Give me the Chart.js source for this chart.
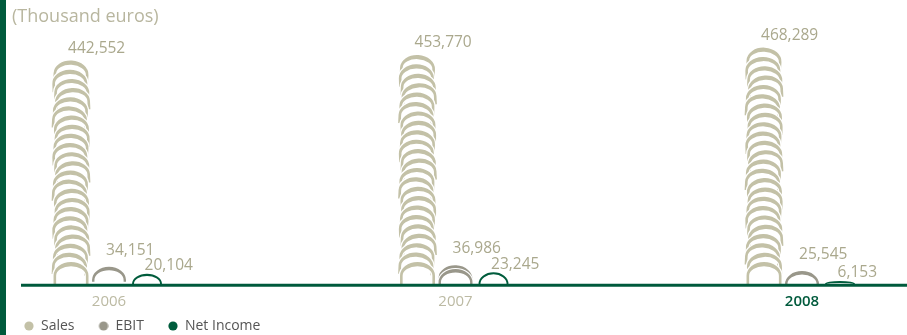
<!DOCTYPE html>
<html>
<head>
<meta charset="utf-8">
<script src="https://cdn.jsdelivr.net/npm/chart.js@4/dist/chart.umd.min.js"></script>
<style>
html,body{margin:0;padding:0;background:#ffffff;}
#wrap{position:relative;width:907px;height:335px;}
</style>
</head>
<body>
<div id="wrap"><canvas id="c" width="907" height="335"></canvas></div>
<script>
// ---- data ----
const years = ['2006', '2007', '2008'];
const sales = [442552, 453770, 468289];
const ebit = [34151, 36986, 25545];
const netIncome = [20104, 23245, 6153];
const seriesNames = ['Sales', 'EBIT', 'Net Income'];
const unitTitle = '(Thousand euros)';
const yMax = 500000;

// ---- styles ----
const FONT = "'Open Sans', 'Noto Sans', sans-serif";
const GREEN = '#005a3c';
const seriesColors = ['#c3c1a7', '#99978a', '#005c3c'];
const archStyles = [
  {archH: 22, pitch: 9.3, tTop: 4.2, tSide: 2.6, halo: 2.6, inset: 0, single: false},
  {archH: 15, pitch: 5.0, tTop: 3.4, tSide: 2.4, halo: 2.0, inset: 0.5, single: false},
  {archH: 12, pitch: 0, tTop: 2.1, tSide: 1.9, halo: 0, inset: 2.5, single: true}
];
const labelOffsets = [{dx: 14.5, dy: -12}, {dx: 14.5, dy: -16.5}, {dx: 15, dy: -8}];
const jitter = [0, -1.2, 0.8, 1.5, -0.6, -1.5, 0.4, 1.1];
const tilt = [0.06, -0.03, 0.04, -0.05, 0.02, 0.05, -0.04, 0.01];
const LEGEND_W = 26;

Chart.defaults.font.family = FONT;

// legend marker: circle at the right end of a wide transparent image
function legendMarker(color) {
  const cv = document.createElement('canvas');
  cv.width = LEGEND_W; cv.height = 10;
  const c = cv.getContext('2d');
  c.fillStyle = color;
  c.beginPath();
  c.arc(LEGEND_W - 5, 5, 4.6, 0, Math.PI * 2);
  c.fill();
  return cv;
}

// one crescent-shaped arch (thicker at the top), optional white halo
function drawCrescent(ctx, cx, topY, rx, h, st, rot, color) {
  const ry = Math.max(1.5, Math.min(rx * 0.78, h));
  const cy = topY + ry;
  const legB = Math.max(topY + h, cy) - cy;
  const iry = Math.max(0.4, ry - st.tTop);
  const irx = rx - st.tSide;
  ctx.save();
  ctx.translate(cx, cy);
  ctx.rotate(rot);
  ctx.beginPath();
  ctx.moveTo(-rx, legB);
  ctx.lineTo(-rx, 0);
  ctx.ellipse(0, 0, rx, ry, 0, Math.PI, 2 * Math.PI);
  ctx.lineTo(rx, legB);
  ctx.lineTo(irx, legB);
  ctx.lineTo(irx, 0);
  ctx.ellipse(0, 0, irx, iry, 0, 2 * Math.PI, Math.PI, true);
  ctx.lineTo(-irx, legB);
  ctx.closePath();
  if (st.halo > 0) {
    ctx.strokeStyle = '#ffffff';
    ctx.lineWidth = st.halo;
    ctx.lineJoin = 'round';
    ctx.stroke();
  }
  ctx.fillStyle = color;
  ctx.fill();
  ctx.restore();
}

const archPlugin = {
  id: 'archBars',
  beforeDraw(chart) {
    const ctx = chart.ctx;
    ctx.save();
    ctx.fillStyle = GREEN;
    ctx.fillRect(0, 0, 6, chart.height);
    ctx.restore();
  },
  beforeDatasetDraw(chart, args) {
    const ctx = chart.ctx;
    const di = args.index;
    const st = archStyles[di];
    const color = seriesColors[di];
    args.meta.data.forEach((bar) => {
      const p = bar.getProps(['x', 'y', 'base', 'width'], true);
      const h = p.base - p.y;
      if (h <= 0) return;
      const rx = p.width / 2 - st.inset;
      const archH = st.single ? h : Math.min(st.archH, h);
      const n = st.single ? 1 : Math.max(1, 1 + Math.round((h - archH) / st.pitch));
      const pitch = n > 1 ? (h - archH) / (n - 1) : 0;
      for (let k = 0; k < n; k++) {
        const topY = p.y + k * pitch;
        const last = k === n - 1;
        const cx = p.x + (st.single || last ? 0 : jitter[k % jitter.length]);
        const rot = st.single || last ? 0 : tilt[k % tilt.length];
        drawCrescent(ctx, cx, topY, rx, archH, st, rot, color);
      }
    });
    return false;
  },
  afterDatasetsDraw(chart) {
    const ctx = chart.ctx;
    ctx.save();
    ctx.font = '15.5px ' + FONT;
    ctx.fillStyle = '#aaa88d';
    ctx.textAlign = 'left';
    ctx.textBaseline = 'middle';
    chart.data.datasets.forEach((ds, di) => {
      const meta = chart.getDatasetMeta(di);
      const off = labelOffsets[di];
      meta.data.forEach((bar, i) => {
        const p = bar.getProps(['x', 'y', 'width'], true);
        const txt = ds.data[i].toLocaleString('en-US');
        ctx.fillText(txt, p.x - p.width / 2 + off.dx, p.y + off.dy);
      });
    });
    // baseline
    const y0 = chart.scales.y.getPixelForValue(0);
    ctx.strokeStyle = GREEN;
    ctx.lineWidth = 3;
    ctx.beginPath();
    ctx.moveTo(21, y0 + 1.3);
    ctx.lineTo(chart.width, y0 + 1.3);
    ctx.stroke();
    ctx.restore();
  }
};

const datasets = [sales, ebit, netIncome].map((vals, i) => ({
  label: seriesNames[i],
  data: vals,
  backgroundColor: seriesColors[i],
  borderWidth: 0,
  pointStyle: legendMarker(seriesColors[i]),
  categoryPercentage: 0.329,
  barPercentage: 0.92
}));

new Chart(document.getElementById('c'), {
  type: 'bar',
  data: {labels: years, datasets},
  plugins: [archPlugin],
  options: {
    responsive: false,
    animation: false,
    events: [],
    layout: {padding: 0},
    scales: {
      x: {
        type: 'linear',
        min: 2005.72,
        max: 2008.303,
        offset: false,
        grid: {display: false, drawTicks: false},
        border: {display: false},
        afterBuildTicks: (scale) => { scale.ticks = years.map(v => ({value: +v})); },
        afterFit: (scale) => { scale.height = 27; },
        ticks: {
          padding: 9,
          autoSkip: false,
          maxRotation: 0,
          callback: (v) => String(v),
          color: ['#bcbaa3', '#bcbaa3', GREEN],
          font: (c) => ({family: FONT, size: 15, weight: c.index === 2 ? '600' : 'normal'})
        }
      },
      y: {
        min: 0,
        max: yMax,
        grid: {display: false, drawTicks: false},
        border: {display: false},
        ticks: {display: false},
        afterFit: (scale) => { scale.width = 12; }
      }
    },
    plugins: {
      title: {
        display: true,
        text: unitTitle,
        align: 'start',
        fullSize: false,
        color: '#b8b69f',
        font: {family: FONT, size: 18, weight: 'normal'},
        padding: {top: 6, bottom: 4}
      },
      legend: {
        display: true,
        position: 'bottom',
        align: 'start',
        maxHeight: 24,
        labels: {
          usePointStyle: true,
          pointStyleWidth: LEGEND_W,
          boxHeight: 10,
          padding: 8,
          color: '#555555',
          font: {family: FONT, size: 14}
        }
      },
      tooltip: {enabled: false}
    }
  }
});
</script>
</body>
</html>
